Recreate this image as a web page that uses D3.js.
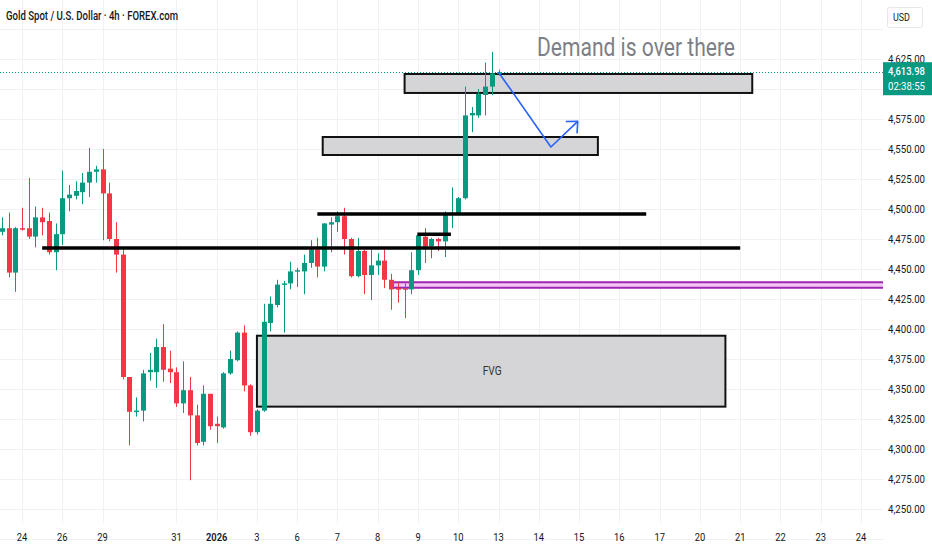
<!DOCTYPE html>
<html>
<head>
<meta charset="utf-8">
<script src="https://cdn.jsdelivr.net/npm/d3@7"></script>
<style>
  body { margin: 0; background: #fff; }
  svg { display: block; }
</style>
</head>
<body>
<div id="chart"></div>
<script>
// 4h candles, index 0 = first bar on the left
const opens  = [4481,4484,4447,4484,4484,4477,4493,4490,4464,4479,4509,4511,4514,4522,4531,4533,4513,4475,4462,4360,
                4331,4332,4364,4364,4385,4367,4364,4338,4349,4328,4306,4346,4321,4318,4363,4374,4397,4353,4314,4332,
                4405,4420,4437,4438,4448,4448,4455,4466,4452,4487,4489,4494,4475,4444,4465,4445,4453,4457,4441,4434,
                4434,4433,4449,4477,4469,4475,4473,4495,4496,4509,4578,4578,4595,4602,4612.5];
const highs  = [4493,4497,4485,4501,4526,4502,4501,4497,4488,4532,4520,4523,4530,4551,4536,4550,4522,4489,4468,4360,
                4343,4366,4380,4392,4404,4382,4368,4373,4360,4337,4353,4346,4327,4364,4382,4398,4403,4354,4333,4421,
                4427,4441,4440,4456,4451,4462,4474,4476,4488,4493,4498,4501,4476,4476,4466,4468,4463,4466,4446,4439,
                4438,4464,4480,4484,4476,4476,4498,4518,4510,4602,4585,4600,4622,4631,4616];
const lows   = [4478,4443,4431,4482,4475,4468,4478,4462,4449,4470,4498,4508,4504,4510,4522,4474,4473,4447,4358,4303,
                4327,4323,4357,4351,4356,4355,4335,4330,4274,4303,4303,4316,4305,4317,4362,4373,4348,4311,4312,4331,
                4398,4418,4397,4433,4435,4429,4451,4443,4448,4464,4481,4462,4443,4443,4429,4424,4445,4434,4416,4422,
                4409,4429,4445,4455,4459,4465,4460,4484,4495,4508,4564,4576,4578,4595,4611];
const closes = [4484,4447,4484,4483,4477,4493,4489,4464,4479,4509,4512,4515,4522,4531,4533,4513,4475,4462,4360,4331,
                4332,4363,4366,4385,4366,4364,4338,4349,4328,4305,4346,4319,4319,4363,4375,4397,4353,4314,4332,4406,
                4421,4437,4438,4448,4449,4455,4466,4452,4488,4489,4494,4475,4444,4465,4445,4453,4457,4441,4433,4433,
                4433,4449,4478,4469,4475,4473,4495,4497,4509,4578,4580,4596,4602,4613,4613.98];

const dateTickIndex  = [3, 9, 15, 26, 32, 38, 44, 50, 56, 62, 68, 74, 80, 86, 92, 98, 104, 110, 116, 122, 128];
const dateTickLabels = ["24","26","29","31","2026","3","6","7","8","9","10","13","14","15","16","17","20","21","22","23","24"];
// 4,600.00 sits under the last-price label, so it is not printed
const priceTicks = [4250,4275,4300,4325,4350,4375,4400,4425,4450,4475,4500,4525,4550,4575,4625];
const gridPrices = [4225,4250,4275,4300,4325,4350,4375,4400,4425,4450,4475,4500,4525,4550,4575,4600,4625,4650];

const lastPrice = 4613.98;
const countdown = "02:38:55";

// drawings: [startBar, endBar, topPrice, bottomPrice]
const grayZones = [[60, 111.8, 4612.5, 4596.7], [47.8, 88.8, 4560, 4545], [38, 107.8, 4394.4, 4335.3]];
const purpleZone = [58.1, 200, 4438.9, 4434.4];
// [startBar, endBar, price]
const blackLines = [[47, 96, 4495.8], [6, 110, 4467.5], [61.9, 66.9, 4479]];
// projection arrow: [bar, price]
const arrowPts = [[74, 4614], [81.8, 4551.7], [85.8, 4573]];

const W = 932, H = 550, plotRight = 883, plotBottom = 523;
const up = "#089981", down = "#f23645";

const x = d3.scaleLinear().domain([-0.28, 131.13]).range([0, 882]);
const y = d3.scaleLinear().domain([4625, 4250]).range([59, 509]);

const svg = d3.select("#chart").append("svg").attr("width", W).attr("height", H)
    .style("font-family", "Roboto, 'Liberation Sans', sans-serif");

const squeeze = (sel, k) => sel.each(function () {
    const w = this.getComputedTextLength();
    d3.select(this).attr("textLength", w * k).attr("lengthAdjust", "spacingAndGlyphs");
});

const plot = svg.append("g");
plot.append("clipPath").attr("id", "clip").append("rect")
    .attr("x", 0).attr("y", 0).attr("width", plotRight).attr("height", plotBottom);

// grid
plot.append("g").selectAll("line").data(gridPrices).join("line")
    .attr("x1", 0).attr("x2", plotRight).attr("y1", d => Math.round(y(d)) + 0.5).attr("y2", d => Math.round(y(d)) + 0.5)
    .attr("stroke", "#f0f1f4");
plot.append("g").selectAll("line").data(dateTickIndex).join("line")
    .attr("x1", d => Math.round(x(d)) + 0.5).attr("x2", d => Math.round(x(d)) + 0.5)
    .attr("y1", 0).attr("y2", plotBottom).attr("stroke", "#f0f1f4");

const body = plot.append("g").attr("clip-path", "url(#clip)");

// zones under the candles
body.append("g").selectAll("rect").data(grayZones).join("rect")
    .attr("x", d => x(d[0])).attr("width", d => x(d[1]) - x(d[0]))
    .attr("y", d => y(d[2])).attr("height", d => y(d[3]) - y(d[2]))
    .attr("fill", "#d5d5d7").attr("stroke", "#111").attr("stroke-width", 2);

const pz = body.append("g");
pz.append("rect").attr("x", x(purpleZone[0])).attr("width", x(purpleZone[1]) - x(purpleZone[0]))
    .attr("y", y(purpleZone[2])).attr("height", y(purpleZone[3]) - y(purpleZone[2]))
    .attr("fill", "#f4c6f4");
pz.selectAll("line").data([purpleZone[2], purpleZone[3]]).join("line")
    .attr("x1", x(purpleZone[0])).attr("x2", x(purpleZone[1]))
    .attr("y1", d => y(d)).attr("y2", d => y(d))
    .attr("stroke", "#9c27b0").attr("stroke-width", 2);

// "FVG" label inside the big zone
const fvg = grayZones[2];
body.append("text").attr("x", (x(fvg[0]) + x(fvg[1])) / 2 + 1).attr("y", (y(fvg[2]) + y(fvg[3])) / 2 + 4)
    .attr("text-anchor", "middle").attr("font-size", 12).attr("fill", "#333").text("FVG")
    .call(squeeze, 0.85);

// candles
const idx = d3.range(opens.length);
const candles = body.append("g").selectAll("g").data(idx).join("g");
candles.append("line")
    .attr("x1", i => Math.round(x(i)) + 0.5).attr("x2", i => Math.round(x(i)) + 0.5)
    .attr("y1", i => y(highs[i])).attr("y2", i => y(lows[i]))
    .attr("stroke", i => closes[i] >= opens[i] ? up : down).attr("stroke-width", 1);
candles.append("rect")
    .attr("x", i => Math.round(x(i)) - 2).attr("width", 5)
    .attr("y", i => y(Math.max(opens[i], closes[i])))
    .attr("height", i => Math.max(1.5, Math.abs(y(opens[i]) - y(closes[i]))))
    .attr("fill", i => closes[i] >= opens[i] ? up : down);

// horizontal black levels
body.append("g").selectAll("line").data(blackLines).join("line")
    .attr("x1", d => x(d[0])).attr("x2", d => x(d[1]))
    .attr("y1", d => y(d[2])).attr("y2", d => y(d[2]))
    .attr("stroke", "#000").attr("stroke-width", 3.5);

// current price dotted line
body.append("line").attr("x1", 0).attr("x2", plotRight)
    .attr("y1", Math.round(y(lastPrice)) + 0.5).attr("y2", Math.round(y(lastPrice)) + 0.5)
    .attr("stroke", up).attr("stroke-dasharray", "1,2");

// projection arrow
const ap = arrowPts.map(d => [x(d[0]), y(d[1])]);
body.append("path").attr("d", d3.line()(ap))
    .attr("fill", "none").attr("stroke", "#2962ff").attr("stroke-width", 1.6).attr("stroke-linejoin", "round");
const tip = ap[ap.length - 1], prev = ap[ap.length - 2];
const ang = Math.atan2(tip[1] - prev[1], tip[0] - prev[0]);
const head = [ang + Math.PI - 0.75, ang + Math.PI + 0.75].map(a => [tip[0] + 12 * Math.cos(a), tip[1] + 12 * Math.sin(a)]);
body.append("path").attr("d", d3.line()([head[0], tip, head[1]]))
    .attr("fill", "none").attr("stroke", "#2962ff").attr("stroke-width", 1.6).attr("stroke-linejoin", "round");

// annotation text
body.append("text").attr("x", 537).attr("y", 56).attr("font-size", 25).attr("fill", "#7d7f86")
    .text("Demand is over there").attr("textLength", 198).attr("lengthAdjust", "spacingAndGlyphs");

// title
svg.append("text").attr("x", 6).attr("y", 20).attr("font-size", 12.5).attr("font-weight", 500)
    .attr("fill", "#131722").text("Gold Spot / U.S. Dollar \u00b7 4h \u00b7 FOREX.com")
    .attr("textLength", 172).attr("lengthAdjust", "spacingAndGlyphs");

// price axis
const fmt = d3.format(",.2f");
svg.append("g").selectAll("text").data(priceTicks).join("text")
    .attr("x", 888).attr("y", d => y(d) + 4).attr("font-size", 11).attr("fill", "#131722")
    .text(d => fmt(d)).attr("textLength", 37).attr("lengthAdjust", "spacingAndGlyphs");

// USD box
svg.append("rect").attr("x", 887.5).attr("y", 7.5).attr("width", 35).attr("height", 20).attr("rx", 2)
    .attr("fill", "#fff").attr("stroke", "#e6e7ea");
svg.append("text").attr("x", 893).attr("y", 21).attr("font-size", 10.5).attr("fill", "#131722").text("USD")
    .call(squeeze, 0.85);

// last price label
const ly = y(lastPrice);
svg.append("rect").attr("x", 883).attr("y", ly - 10).attr("width", 49).attr("height", 33).attr("fill", up);
svg.append("text").attr("x", 888).attr("y", ly + 3).attr("font-size", 11).attr("font-weight", 500).attr("fill", "#fff")
    .text(fmt(lastPrice)).attr("textLength", 37).attr("lengthAdjust", "spacingAndGlyphs");
svg.append("text").attr("x", 888).attr("y", ly + 18).attr("font-size", 11).attr("fill", "#fff")
    .text(countdown).attr("textLength", 37).attr("lengthAdjust", "spacingAndGlyphs");

// time axis
svg.append("g").selectAll("text").data(dateTickIndex).join("text")
    .attr("x", d => x(d)).attr("y", 541).attr("text-anchor", "middle").attr("font-size", 11)
    .attr("fill", "#131722").attr("font-weight", (d, i) => dateTickLabels[i] === "2026" ? 600 : 400)
    .text((d, i) => dateTickLabels[i])
    .call(squeeze, 0.85);
</script>
</body>
</html>
